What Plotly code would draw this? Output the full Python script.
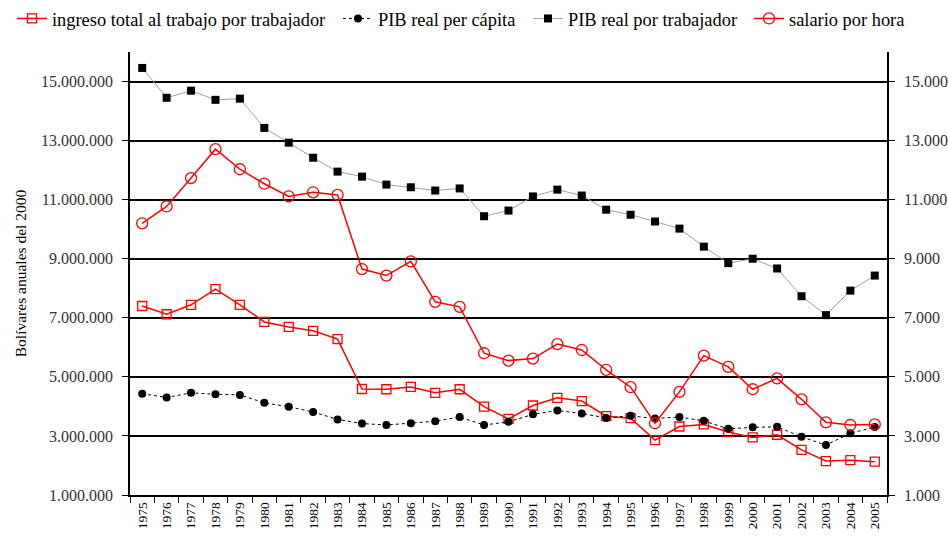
import plotly.graph_objects as go

years = [str(y) for y in range(1975, 2006)]

ingreso_total = [7.40, 7.12, 7.44, 7.97, 7.44, 6.86, 6.69, 6.56, 6.28, 4.59, 4.58, 4.66, 4.46, 4.58, 3.99, 3.58,
                 4.03, 4.29, 4.18, 3.67, 3.60, 2.86, 3.32, 3.39, 3.13, 2.95, 3.04, 2.53, 2.15, 2.18, 2.13]
pib_per_capita = [4.43, 4.30, 4.46, 4.41, 4.39, 4.12, 3.99, 3.81, 3.56, 3.42, 3.37, 3.43, 3.50, 3.64, 3.37, 3.48,
                  3.73, 3.86, 3.76, 3.61, 3.68, 3.59, 3.64, 3.51, 3.24, 3.29, 3.31, 2.97, 2.69, 3.09, 3.30]
pib_trabajador = [15.46, 14.45, 14.69, 14.38, 14.42, 13.43, 12.93, 12.42, 11.95, 11.78, 11.51, 11.42, 11.31, 11.38, 10.44, 10.63,
                  11.11, 11.34, 11.14, 10.66, 10.49, 10.26, 10.02, 9.41, 8.85, 9.00, 8.67, 7.73, 7.09, 7.92, 8.43]
salario_hora = [10.20, 10.77, 11.73, 12.71, 12.03, 11.54, 11.11, 11.25, 11.16, 8.65, 8.43, 8.91, 7.54, 7.37, 5.80, 5.55,
                5.62, 6.11, 5.91, 5.24, 4.65, 3.43, 4.49, 5.72, 5.34, 4.58, 4.95, 4.24, 3.46, 3.37, 3.39]

left_ticks = [1_000_000, 3_000_000, 5_000_000, 7_000_000, 9_000_000, 11_000_000, 13_000_000, 15_000_000]
right_ticks = [1_000, 3_000, 5_000, 7_000, 9_000, 11_000, 13_000, 15_000]

FONT = "Liberation Serif, Times New Roman, serif"
LEG_FONT = dict(family=FONT, size=18.4, color="#000")

fig = go.Figure()
fig.add_trace(go.Scatter(
    x=years, y=[v * 1e6 for v in ingreso_total], name="ingreso total al trabajo por trabajador",
    legend="legend", mode="lines+markers", line=dict(color="#FF0000", width=1.5),
    marker=dict(symbol="square-open", size=9, color="#FF0000", line=dict(width=1.3))))
fig.add_trace(go.Scatter(
    x=years, y=[v * 1e6 for v in pib_per_capita], name="PIB real per cápita",
    legend="legend2", mode="lines+markers", line=dict(color="#000000", width=1, dash="dot"),
    marker=dict(symbol="circle", size=8, color="#000000")))
fig.add_trace(go.Scatter(
    x=years, y=[v * 1e6 for v in pib_trabajador], name="PIB real por trabajador",
    legend="legend3", mode="lines+markers", line=dict(color="#A0A0A0", width=1),
    marker=dict(symbol="square", size=8, color="#000000")))
fig.add_trace(go.Scatter(
    x=years, y=[v * 1e3 for v in salario_hora], name="salario por hora", yaxis="y2",
    legend="legend4", mode="lines+markers", line=dict(color="#FF0000", width=1.5),
    marker=dict(symbol="circle-open", size=11, color="#FF0000", line=dict(width=1.3))))


def leg(xpx):
    return dict(orientation="h", x=xpx / 948, xref="container", y=1.0, yref="container",
                yanchor="top", xanchor="left", font=LEG_FONT, itemwidth=30,
                bgcolor="rgba(0,0,0,0)", borderwidth=0)


fig.update_layout(
    width=948, height=536,
    margin=dict(l=130, r=61, t=52, b=41, autoexpand=False),
    paper_bgcolor="white", plot_bgcolor="white",
    separators=",.",
    font=dict(family=FONT, size=14, color="#000000"),
    showlegend=True,
    legend=leg(12), legend2=leg(338), legend3=leg(528), legend4=leg(749),
    xaxis=dict(type="category", range=[-0.5, 30.5], showline=True, linecolor="#000", linewidth=1.5,
               ticks="outside", tickson="boundaries", ticklen=6, tickcolor="#000", tickangle=-90,
               tickfont=dict(family=FONT, size=13.5, color="#000"), showgrid=False, zeroline=False),
    yaxis=dict(range=[1_000_000, 16_000_000], tickvals=left_ticks, tickformat=",d",
               showline=True, linecolor="#000", linewidth=1.5, ticks="outside", ticklen=6,
               tickcolor="#000", showgrid=True, gridcolor="#000", gridwidth=1.5, zeroline=False,
               ticklabelstandoff=6,
               tickfont=dict(family=FONT, size=16, color="#333"),
               title=dict(text="Bolívares anuales del 2000", font=dict(family=FONT, size=15.5, color="#000"),
                          standoff=11)),
    yaxis2=dict(range=[1_000, 16_000], tickvals=right_ticks, tickformat=",d", overlaying="y",
                side="right", showline=True, linecolor="#000", linewidth=1.5, ticks="outside",
                ticklen=6, tickcolor="#000", showgrid=False, zeroline=False, ticklabelstandoff=6,
                tickfont=dict(family=FONT, size=16, color="#333")),
)

fig.write_html("out.html", config={"displayModeBar": False},
               post_script="document.body.style.margin='0';")
